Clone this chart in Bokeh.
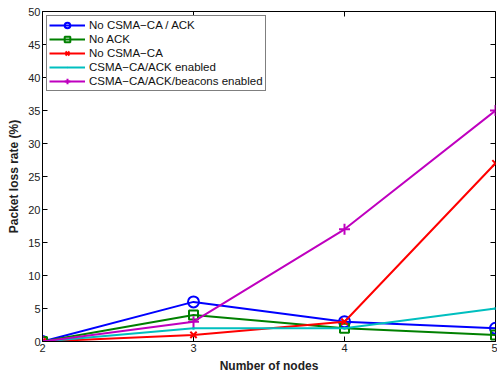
import math
from bokeh.plotting import figure
from bokeh.models import Range1d, FixedTicker, Legend, LegendItem
from bokeh.embed import file_html
from bokeh.resources import INLINE

nodes = [2, 3, 4, 5]
no_csma_ack = [0, 6, 3, 2]
no_ack = [0, 4, 2, 1]
no_csma = [0, 1, 3, 27]
csma_ack = [0, 2, 2, 5]
csma_ack_beacons = [0, 3, 17, 35]
x_ticks = [2, 3, 4, 5]
y_ticks = list(range(0, 51, 5))
x_min, x_max = 2, 5
y_min, y_max = 0, 50

FONT = "Liberation Sans"

p = figure(width=497, height=375, output_backend="svg", toolbar_location=None,
           x_range=Range1d(x_min, x_max), y_range=Range1d(y_min, y_max),
           min_border_left=42, min_border_right=2, min_border_top=11, min_border_bottom=33)
p.outline_line_color = "black"
p.outline_line_width = 1
p.outline_line_alpha = 1
p.xgrid.visible = False
p.ygrid.visible = False
p.background_fill_color = "white"
p.border_fill_color = "white"

for ax, ticks in ((p.xaxis[0], x_ticks), (p.yaxis[0], y_ticks)):
    ax.ticker = FixedTicker(ticks=ticks)
    ax.axis_line_color = "black"
    ax.major_tick_line_color = "black"
    ax.major_tick_in = 5
    ax.major_tick_out = 0
    ax.minor_tick_line_color = None
    ax.major_label_text_font = FONT
    ax.major_label_text_color = "#222222"
    ax.major_label_text_font_size = "11px"
    ax.major_label_standoff = 2
    ax.axis_label_text_font = FONT
    ax.axis_label_text_font_style = "bold"
    ax.axis_label_text_font_size = "12px"
    ax.axis_label_text_color = "#222222"
    ax.axis_label_standoff = 4
p.xaxis.axis_label = "Number of nodes"
p.yaxis.axis_label = "Packet loss rate (%)"

# inward ticks on the top and right edges of the box
p.scatter(x_ticks, [y_max] * len(x_ticks), marker="dash", angle=math.pi / 2,
          size=10, line_color="black", line_width=1)
p.scatter([x_max] * len(y_ticks), y_ticks, marker="dash",
          size=10, line_color="black", line_width=1)

series = [
    ("No CSMA\u2212CA / ACK", no_csma_ack, "#0000ff", "circle", 11, None),
    ("No ACK", no_ack, "#008000", "square", 9, None),
    ("No CSMA\u2212CA", no_csma, "#ff0000", "x", 9, None),
    ("CSMA\u2212CA/ACK enabled", csma_ack, "#00bfbf", "dot", 12, "#00bfbf"),
    ("CSMA\u2212CA/ACK/beacons enabled", csma_ack_beacons, "#bf00bf", "cross", 11, None),
]
items = []
for label, ys, color, marker, size, fill in series:
    r1 = p.line(nodes, ys, line_color=color, line_width=2)
    r2 = p.scatter(nodes, ys, marker=marker, size=size, line_color=color,
                   fill_color=fill, line_width=2)
    items.append(LegendItem(label=label, renderers=[r1, r2]))

legend = Legend(items=items, location="top_left")
legend.label_text_font = FONT
legend.label_text_font_size = "11.5px"
legend.label_text_color = "#111111"
legend.glyph_width = 36
legend.glyph_height = 14
legend.label_height = 14
legend.spacing = 0
legend.padding = 2
legend.margin = 4
legend.label_standoff = 4
legend.border_line_color = "black"
legend.border_line_width = 1
legend.background_fill_alpha = 1
p.add_layout(legend, "center")

open("out.html", "w").write(file_html(p, INLINE))
